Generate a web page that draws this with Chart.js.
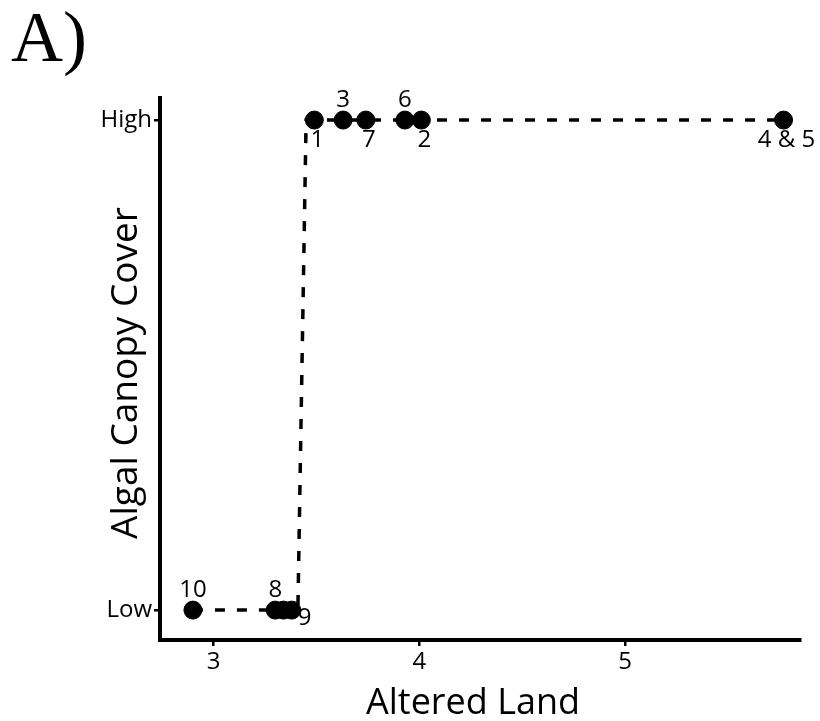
<!DOCTYPE html>
<html>
<head>
<meta charset="utf-8">
<script src="https://cdn.jsdelivr.net/npm/chart.js@4.4.0/dist/chart.umd.min.js"></script>
<style>
  html, body { margin: 0; padding: 0; background: #fff; }
</style>
</head>
<body>
<canvas id="chart" width="820" height="721"></canvas>
<script>
// site labels, altered land and canopy state (0 = Low, 1 = High)
var siteLabels = ['10', '8', '', '9', '1', '3', '7', '6', '2', '4 & 5'];
var alteredLand = [2.90, 3.30, 3.34, 3.38, 3.49, 3.63, 3.74, 3.93, 4.01, 5.77];
var canopyState = [0, 0, 0, 0, 1, 1, 1, 1, 1, 1];

// fitted step curve
var fitX = [2.90, 3.41, 3.45, 5.77];
var fitY = [0, 0, 1, 1];

var xTicks = [3, 4, 5];
var yTickValues = [0, 1];
var yTickLabels = ['Low', 'High'];

var labelSide = ['up', 'up', 'none', 'downright', 'down', 'up', 'down', 'up', 'down', 'down'];

var fontFam = '"Open Sans", "Noto Sans", sans-serif';

var pointData = alteredLand.map(function (v, i) { return { x: v, y: canopyState[i] }; });
var fitData = fitX.map(function (v, i) { return { x: v, y: fitY[i] }; });

// draws the site numbers, axis titles and panel letter
var labelPlugin = {
    id: 'siteLabels',
    afterDraw: function (chart) {
        var ctx = chart.ctx;
        var meta = chart.getDatasetMeta(0);
        ctx.save();
        ctx.fillStyle = '#000';
        ctx.font = '24px ' + fontFam;
        meta.data.forEach(function (pt, i) {
            var side = labelSide[i];
            if (side === 'none') return;
            if (side === 'up') {
                ctx.textAlign = 'center';
                ctx.textBaseline = 'alphabetic';
                ctx.fillText(siteLabels[i], pt.x, pt.y - 13);
            } else if (side === 'down') {
                ctx.textAlign = 'center';
                ctx.textBaseline = 'top';
                ctx.fillText(siteLabels[i], pt.x + 3, pt.y + 8);
            } else {
                ctx.textAlign = 'left';
                ctx.textBaseline = 'top';
                ctx.fillText(siteLabels[i], pt.x + 6, pt.y - 4);
            }
        });
        var area = chart.chartArea;
        ctx.font = '36px ' + fontFam;
        ctx.textAlign = 'center';
        ctx.textBaseline = 'alphabetic';
        ctx.fillText('Altered Land', (area.left + area.right) / 2 - 7, 714);

        ctx.font = '72px "Liberation Serif", serif';
        ctx.textAlign = 'left';
        ctx.fillText('A)', 11, 61);

        ctx.font = '37px ' + fontFam;
        ctx.textAlign = 'center';
        ctx.translate(137, 373);
        ctx.rotate(-Math.PI / 2);
        ctx.fillText('Algal Canopy Cover', 0, 0);
        ctx.restore();
    }
};

var ctx = document.getElementById('chart').getContext('2d');
var chart = new Chart(ctx, {
    type: 'scatter',
    data: {
        datasets: [{
            label: 'sites',
            data: pointData,
            backgroundColor: '#000',
            borderColor: '#000',
            pointRadius: 9,
            pointHoverRadius: 9,
            order: 0
        }, {
            label: 'fit',
            data: fitData,
            showLine: true,
            borderColor: '#000',
            borderWidth: 3.5,
            borderDash: [10, 12],
            pointRadius: 0,
            fill: false,
            order: 1
        }]
    },
    options: {
        responsive: false,
        animation: false,
        layout: { padding: { left: 0, top: 98, right: 20, bottom: 0 } },
        plugins: { legend: { display: false }, tooltip: { enabled: false } },
        scales: {
            x: {
                type: 'linear',
                min: 2.74,
                max: 5.85,
                afterBuildTicks: function (s) { s.ticks = xTicks.map(function (v) { return { value: v }; }); },
                afterFit: function (s) { s.height = 81; },
                border: { display: true, color: '#000', width: 4 },
                grid: { drawOnChartArea: false, drawTicks: true, tickLength: 6, lineWidth: 2.5, color: '#000' },
                ticks: { color: '#000', font: { size: 24, family: fontFam }, padding: 2 }
            },
            y: {
                type: 'linear',
                min: -0.061,
                max: 1.045,
                afterBuildTicks: function (s) { s.ticks = yTickValues.map(function (v) { return { value: v }; }); },
                afterFit: function (s) { s.width = 160; },
                border: { display: true, color: '#000', width: 4 },
                grid: { drawOnChartArea: false, drawTicks: true, tickLength: 6, lineWidth: 2.5, color: '#000' },
                ticks: {
                    color: '#000',
                    font: { size: 24, family: fontFam },
                    padding: 2,
                    callback: function (v) {
                        var i = yTickValues.indexOf(v);
                        return i >= 0 ? yTickLabels[i] : '';
                    }
                }
            }
        }
    },
    plugins: [labelPlugin]
});
</script>
</body>
</html>
